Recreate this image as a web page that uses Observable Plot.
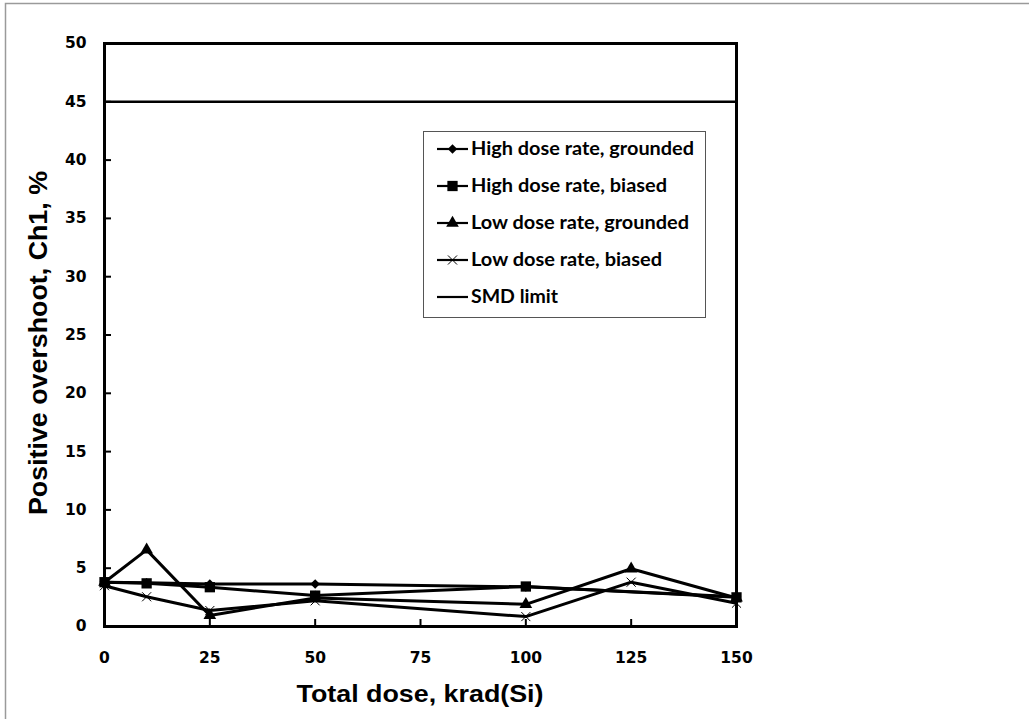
<!DOCTYPE html>
<html><head><meta charset="utf-8">
<script src="https://cdn.jsdelivr.net/npm/d3@7"></script>
<script src="https://cdn.jsdelivr.net/npm/@observablehq/plot@0.6"></script>
<style>
body{margin:0;background:#fff;}
#chart{position:relative;width:1029px;height:719px;overflow:hidden;}
</style>
</head><body><div id="chart"></div>
<script>
// ---- data ----
const hdrDoses = [0, 10, 25, 50, 100, 150];
const ldrDoses = [0, 10, 25, 50, 100, 125, 150];
const hdrGrounded = [3.8, 3.75, 3.65, 3.65, 3.4, 2.55];
const hdrBiased   = [3.8, 3.7, 3.37, 2.65, 3.43, 2.5];
const ldrGrounded = [3.8, 6.57, 0.95, 2.45, 1.9, 4.95, 2.45];
const ldrBiased   = [3.5, 2.55, 1.37, 2.2, 0.85, 3.8, 2.0];
const smdLimit = 45;
const seriesNames = ["High dose rate, grounded", "High dose rate, biased", "Low dose rate, grounded", "Low dose rate, biased", "SMD limit"];
const xTicks = [0, 25, 50, 75, 100, 125, 150];
const yTicks = [0, 5, 10, 15, 20, 25, 30, 35, 40, 45, 50];
const xTitle = "Total dose, krad(Si)";
const yTitle = "Positive overshoot, Ch1, %";

// ---- layout ----
const W = 1029, H = 719, mL = 104, mR = 293, mT = 43, mB = 93;
const innerW = W - mL - mR, innerH = H - mT - mB, tickLen = 7;

// ---- build rows ----
const mk = (xs, ys, name) => xs.map((x, i) => ({x, y: ys[i], name}));
const rowsHG = mk(hdrDoses, hdrGrounded, seriesNames[0]);
const rowsHB = mk(hdrDoses, hdrBiased, seriesNames[1]);
const rowsLG = mk(ldrDoses, ldrGrounded, seriesNames[2]);
const rowsLB = mk(ldrDoses, ldrBiased, seriesNames[3]);

const lineOpts = {x: "x", y: "y", stroke: "black", strokeWidth: 3, strokeLinejoin: "miter"};

const plot = Plot.plot({
  width: W, height: H,
  marginLeft: mL, marginRight: mR, marginTop: mT, marginBottom: mB,
  x: {domain: [0, 150]},
  y: {domain: [0, 50]},
  style: {fontFamily: "DejaVu Sans", fontWeight: "bold", fontSize: "15.5px", color: "black", background: "white"},
  marks: [
    Plot.ruleY([smdLimit], {stroke: "black", strokeWidth: 2.5}),
    // inward tick marks
    Plot.ruleX(xTicks, {x: d => d, insetTop: innerH - tickLen, stroke: "black", strokeWidth: 2}),
    Plot.ruleY(yTicks, {y: d => d, insetRight: innerW - tickLen, stroke: "black", strokeWidth: 2}),
    Plot.line(rowsHG, lineOpts),
    Plot.line(rowsHB, lineOpts),
    Plot.line(rowsLG, lineOpts),
    Plot.line(rowsLB, lineOpts),
    Plot.dot(rowsHG, {x: "x", y: "y", symbol: "diamond2", r: 4.3, fill: "black"}),
    Plot.dot(rowsHB, {x: "x", y: "y", symbol: "square", r: 5.8, fill: "black"}),
    Plot.dot(rowsLG, {x: "x", y: "y", symbol: "triangle", r: 4.7, fill: "black"}),
    Plot.dot(rowsLB, {x: "x", y: "y", symbol: "times", r: 4.2, stroke: "black", strokeWidth: 1}),
    Plot.axisX(xTicks, {tickSize: 0, tickPadding: 25, label: null}),
    Plot.axisY(yTicks, {tickSize: 0, tickPadding: 18, label: null}),
    Plot.frame({stroke: "black", strokeWidth: 3})
  ]
});
document.getElementById("chart").appendChild(plot);

const svg = d3.select(plot);
const xs = plot.scale("x");
const cx = (xs.range[0] + xs.range[1]) / 2;

// outer grey border
svg.insert("rect", ":first-child")
  .attr("x", 5.5).attr("y", 3.5).attr("width", 1100).attr("height", 1100)
  .attr("fill", "none").attr("stroke", "#9a9a9a").attr("stroke-width", 1.5);

// axis titles
svg.append("text")
  .attr("x", cx).attr("y", 702)
  .attr("text-anchor", "middle")
  .attr("font-family", "Liberation Sans, Arial, sans-serif")
  .attr("font-weight", "bold").attr("font-size", 24)
  .attr("textLength", 247).attr("lengthAdjust", "spacingAndGlyphs")
  .text(xTitle);
svg.append("text")
  .attr("transform", "translate(47,343) rotate(-90)")
  .attr("text-anchor", "middle")
  .attr("font-family", "Liberation Sans, Arial, sans-serif")
  .attr("font-weight", "bold").attr("font-size", 26.5)
  .attr("textLength", 344).attr("lengthAdjust", "spacingAndGlyphs")
  .text(yTitle);

// legend
const lg = svg.append("g");
lg.append("rect").attr("x", 423.5).attr("y", 131.5).attr("width", 282).attr("height", 186)
  .attr("fill", "white").attr("stroke", "#555").attr("stroke-width", 1);
const symbols = [d3.symbolDiamond2, d3.symbolSquare, d3.symbolTriangle, d3.symbolTimes, null];
const symR = [4.3, 5.8, 4.7, 4.2, 0];
const textW = [223, 196, 218, 191, 87];
seriesNames.forEach((name, i) => {
  const yy = 149 + i * 37;
  lg.append("line").attr("x1", 437).attr("x2", 468).attr("y1", yy).attr("y2", yy)
    .attr("stroke", "black").attr("stroke-width", 2.2);
  if (symbols[i]) {
    const p = d3.symbol(symbols[i], Math.PI * symR[i] * symR[i])();
    const s = lg.append("path").attr("d", p).attr("transform", `translate(452.5,${yy})`);
    if (i === 3) s.attr("fill", "none").attr("stroke", "black").attr("stroke-width", 1);
    else s.attr("fill", "black");
  }
  lg.append("text").attr("x", 471).attr("y", yy).attr("dy", "0.36em")
    .attr("text-anchor", "start")
    .attr("font-family", "Lato, Carlito, sans-serif").attr("font-weight", "bold")
    .attr("font-size", 18).attr("textLength", textW[i]).attr("lengthAdjust", "spacingAndGlyphs")
    .text(name);
});
</script>
</body></html>
